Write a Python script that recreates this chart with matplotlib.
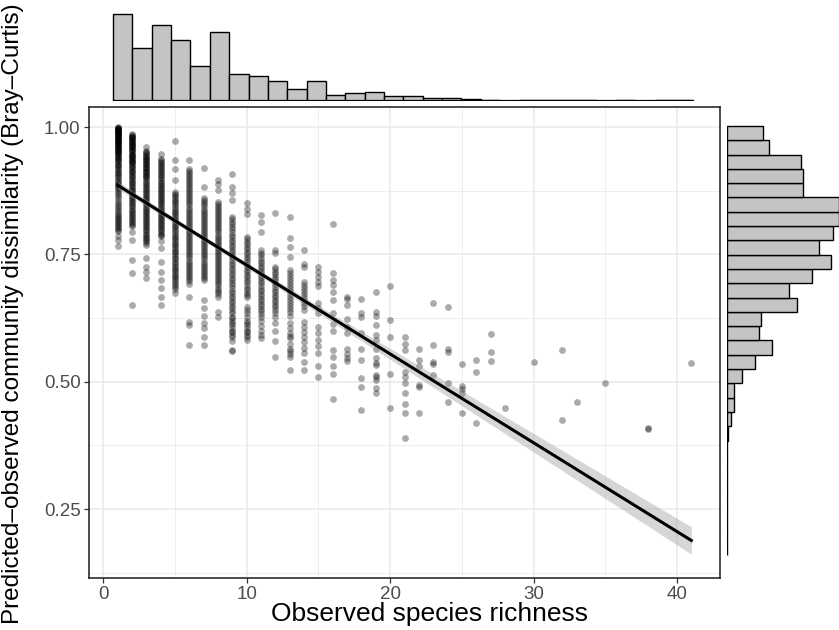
import numpy as np
import matplotlib
matplotlib.use("Agg")
import matplotlib.pyplot as plt

plt.rcParams['font.family'] = ['Liberation Sans', 'DejaVu Sans']

# observed richness (x) and the dissimilarity values seen in each column
richness = [1, 2, 3, 4, 5, 6, 7, 8, 9, 10, 11, 12, 13, 14, 15, 16, 17, 18, 19, 20,
            21, 22, 23, 24, 25, 26, 27, 28, 30, 32, 33, 35, 38, 41]
dissimilarity = [
    [1.000, 0.999, 0.999, 0.998, 0.997, 0.996, 0.995, 0.994, 0.993, 0.992, 0.991, 0.990, 0.989, 0.988,
     0.987, 0.986, 0.984, 0.983, 0.982, 0.981, 0.980, 0.978, 0.977, 0.976, 0.975, 0.973, 0.972, 0.971,
     0.970, 0.969, 0.967, 0.966, 0.965, 0.963, 0.962, 0.960, 0.958, 0.957, 0.956, 0.955, 0.953, 0.951,
     0.950, 0.949, 0.947, 0.945, 0.944, 0.942, 0.940, 0.938, 0.936, 0.933, 0.931, 0.928, 0.926, 0.923,
     0.921, 0.918, 0.915, 0.912, 0.910, 0.907, 0.904, 0.901, 0.898, 0.895, 0.892, 0.889, 0.886, 0.883,
     0.880, 0.876, 0.872, 0.868, 0.864, 0.860, 0.855, 0.851, 0.847, 0.843, 0.839, 0.835, 0.831, 0.828,
     0.825, 0.822, 0.819, 0.816, 0.813, 0.810, 0.807, 0.804, 0.801, 0.798, 0.795, 0.786, 0.779, 0.766],
    [0.987, 0.985, 0.983, 0.981, 0.980, 0.978, 0.976, 0.975, 0.974, 0.971, 0.969, 0.968, 0.967, 0.965,
     0.962, 0.961, 0.960, 0.958, 0.955, 0.954, 0.953, 0.951, 0.948, 0.946, 0.945, 0.944, 0.941, 0.939,
     0.937, 0.936, 0.934, 0.932, 0.931, 0.929, 0.926, 0.924, 0.921, 0.919, 0.916, 0.914, 0.911, 0.909,
     0.906, 0.903, 0.901, 0.898, 0.896, 0.893, 0.890, 0.888, 0.885, 0.882, 0.879, 0.877, 0.874, 0.871,
     0.868, 0.865, 0.862, 0.859, 0.856, 0.853, 0.850, 0.847, 0.844, 0.841, 0.838, 0.835, 0.832, 0.829,
     0.826, 0.823, 0.820, 0.817, 0.814, 0.811, 0.808, 0.805, 0.794, 0.778, 0.739, 0.713, 0.650],
    [0.961, 0.953, 0.950, 0.949, 0.947, 0.944, 0.942, 0.941, 0.938, 0.936, 0.935, 0.932, 0.929, 0.927,
     0.926, 0.923, 0.920, 0.919, 0.917, 0.914, 0.912, 0.911, 0.908, 0.905, 0.904, 0.902, 0.899, 0.896,
     0.893, 0.890, 0.887, 0.884, 0.881, 0.878, 0.875, 0.872, 0.869, 0.866, 0.863, 0.860, 0.857, 0.854,
     0.851, 0.848, 0.845, 0.842, 0.839, 0.836, 0.833, 0.830, 0.827, 0.824, 0.821, 0.818, 0.815, 0.812,
     0.809, 0.806, 0.803, 0.800, 0.797, 0.794, 0.791, 0.788, 0.785, 0.782, 0.779, 0.776, 0.773, 0.769,
     0.742, 0.725, 0.715, 0.704],
    [0.948, 0.938, 0.935, 0.932, 0.929, 0.926, 0.923, 0.920, 0.917, 0.914, 0.911, 0.908, 0.905, 0.902,
     0.899, 0.896, 0.893, 0.890, 0.887, 0.884, 0.881, 0.878, 0.875, 0.872, 0.869, 0.866, 0.863, 0.860,
     0.857, 0.854, 0.851, 0.848, 0.845, 0.842, 0.839, 0.836, 0.833, 0.830, 0.827, 0.824, 0.821, 0.818,
     0.815, 0.812, 0.809, 0.806, 0.803, 0.800, 0.797, 0.794, 0.791, 0.788, 0.786, 0.776, 0.762, 0.735,
     0.716, 0.700, 0.684, 0.667, 0.650],
    [0.972, 0.935, 0.918, 0.896, 0.873, 0.869, 0.866, 0.862, 0.859, 0.855, 0.852, 0.848, 0.845, 0.841,
     0.838, 0.834, 0.831, 0.827, 0.824, 0.820, 0.817, 0.813, 0.810, 0.806, 0.803, 0.799, 0.796, 0.792,
     0.789, 0.785, 0.782, 0.778, 0.775, 0.771, 0.768, 0.764, 0.761, 0.757, 0.754, 0.750, 0.747, 0.743,
     0.740, 0.736, 0.733, 0.729, 0.726, 0.722, 0.719, 0.715, 0.712, 0.708, 0.705, 0.701, 0.698, 0.694,
     0.690, 0.686, 0.683, 0.674],
    [0.936, 0.918, 0.914, 0.910, 0.906, 0.902, 0.898, 0.894, 0.890, 0.886, 0.882, 0.878, 0.874, 0.870,
     0.866, 0.862, 0.858, 0.854, 0.850, 0.846, 0.842, 0.838, 0.834, 0.830, 0.826, 0.822, 0.818, 0.814,
     0.810, 0.806, 0.802, 0.798, 0.794, 0.790, 0.786, 0.782, 0.778, 0.774, 0.770, 0.766, 0.762, 0.758,
     0.754, 0.750, 0.746, 0.742, 0.738, 0.734, 0.730, 0.726, 0.722, 0.718, 0.714, 0.710, 0.706, 0.702,
     0.698, 0.692, 0.667, 0.618, 0.612, 0.573],
    [0.920, 0.883, 0.860, 0.856, 0.852, 0.848, 0.844, 0.840, 0.836, 0.832, 0.828, 0.824, 0.820, 0.816,
     0.812, 0.808, 0.804, 0.800, 0.796, 0.792, 0.788, 0.784, 0.780, 0.776, 0.772, 0.768, 0.764, 0.760,
     0.756, 0.752, 0.748, 0.744, 0.740, 0.736, 0.732, 0.728, 0.724, 0.720, 0.716, 0.712, 0.708, 0.704,
     0.700, 0.660, 0.645, 0.630, 0.615, 0.605, 0.588, 0.572],
    [0.896, 0.889, 0.876, 0.853, 0.849, 0.845, 0.841, 0.837, 0.833, 0.829, 0.825, 0.821, 0.817, 0.813,
     0.809, 0.805, 0.801, 0.797, 0.793, 0.789, 0.785, 0.781, 0.777, 0.773, 0.769, 0.765, 0.761, 0.757,
     0.753, 0.749, 0.745, 0.741, 0.737, 0.733, 0.729, 0.725, 0.721, 0.717, 0.713, 0.709, 0.705, 0.701,
     0.697, 0.693, 0.689, 0.685, 0.681, 0.677, 0.672, 0.667, 0.637, 0.628],
    [0.907, 0.883, 0.870, 0.857, 0.824, 0.819, 0.814, 0.809, 0.804, 0.799, 0.794, 0.789, 0.784, 0.779,
     0.774, 0.769, 0.764, 0.759, 0.754, 0.749, 0.744, 0.739, 0.734, 0.729, 0.724, 0.719, 0.714, 0.709,
     0.704, 0.699, 0.694, 0.689, 0.684, 0.679, 0.674, 0.669, 0.664, 0.659, 0.654, 0.649, 0.644, 0.639,
     0.634, 0.628, 0.625, 0.620, 0.615, 0.612, 0.605, 0.600, 0.597, 0.592, 0.588, 0.580, 0.562, 0.560],
    [0.850, 0.840, 0.830, 0.785, 0.780, 0.775, 0.770, 0.765, 0.760, 0.755, 0.750, 0.745, 0.740, 0.735,
     0.730, 0.725, 0.720, 0.715, 0.710, 0.705, 0.700, 0.695, 0.690, 0.685, 0.680, 0.675, 0.670, 0.667,
     0.647, 0.640, 0.635, 0.628, 0.620, 0.615, 0.612, 0.605, 0.600, 0.598, 0.592, 0.588, 0.582],
    [0.827, 0.814, 0.794, 0.758, 0.753, 0.748, 0.743, 0.738, 0.733, 0.728, 0.723, 0.718, 0.713, 0.708,
     0.703, 0.698, 0.693, 0.688, 0.683, 0.678, 0.673, 0.668, 0.663, 0.658, 0.653, 0.648, 0.643, 0.638,
     0.633, 0.627, 0.620, 0.610, 0.600, 0.592, 0.585],
    [0.832, 0.758, 0.752, 0.726, 0.721, 0.716, 0.711, 0.706, 0.701, 0.696, 0.691, 0.686, 0.681, 0.676,
     0.671, 0.666, 0.661, 0.656, 0.651, 0.646, 0.640, 0.634, 0.628, 0.615, 0.600, 0.580, 0.549],
    [0.823, 0.783, 0.765, 0.745, 0.720, 0.714, 0.708, 0.702, 0.696, 0.690, 0.684, 0.678, 0.672, 0.666,
     0.660, 0.654, 0.648, 0.642, 0.636, 0.630, 0.615, 0.605, 0.595, 0.590, 0.585, 0.575, 0.565, 0.560,
     0.555, 0.549, 0.523],
    [0.758, 0.732, 0.725, 0.696, 0.690, 0.684, 0.678, 0.672, 0.666, 0.660, 0.654, 0.648, 0.640, 0.618,
     0.608, 0.598, 0.588, 0.578, 0.566, 0.556, 0.539, 0.523],
    [0.725, 0.715, 0.705, 0.695, 0.687, 0.654, 0.645, 0.634, 0.608, 0.595, 0.582, 0.570, 0.556, 0.530,
     0.510],
    [0.810, 0.713, 0.700, 0.690, 0.677, 0.660, 0.634, 0.614, 0.600, 0.562, 0.548, 0.530, 0.516, 0.467],
    [0.667, 0.662, 0.650, 0.624, 0.608, 0.595, 0.565, 0.555, 0.546, 0.540],
    [0.662, 0.634, 0.628, 0.595, 0.565, 0.543, 0.507, 0.490, 0.444],
    [0.677, 0.637, 0.629, 0.611, 0.592, 0.582, 0.565, 0.546, 0.536, 0.532, 0.514, 0.510, 0.503, 0.487,
     0.478],
    [0.687, 0.621, 0.588, 0.515, 0.448],
    [0.588, 0.575, 0.562, 0.520, 0.510, 0.498, 0.478, 0.457, 0.438, 0.389],
    [0.565, 0.542, 0.531, 0.493, 0.490, 0.438],
    [0.654, 0.572, 0.539, 0.535, 0.513],
    [0.647, 0.565, 0.559, 0.498, 0.461],
    [0.535, 0.492, 0.485, 0.477, 0.439],
    [0.542, 0.520, 0.420],
    [0.593, 0.559, 0.540],
    [0.449],
    [0.538],
    [0.562, 0.425],
    [0.460],
    [0.497],
    [0.410, 0.408],
    [0.536],
]

# marginal histogram counts
top_counts = [171, 103, 149, 120, 68, 136, 53, 49, 39, 23, 40, 11, 15, 18, 10,
              9, 5, 6, 4, 1, 0, 1, 1, 1, 1, 0, 1, 0, 1, 1]
top_start, top_binwidth = 0.68, 1.349
right_counts = [0, 0, 0, 0, 0, 0, 0, 0, 1, 3, 5, 5, 11, 20, 32,
                23, 24, 50, 44, 61, 74, 66, 76, 80, 80, 54, 54, 53, 30, 26]
right_start, right_binwidth = 0.160, 0.02807

x = np.concatenate([np.full(len(v), r, dtype=float) for r, v in zip(richness, dissimilarity)])
y = np.concatenate([np.array(v) for v in dissimilarity])

# linear model with 95% confidence band
coef = np.polyfit(x, y, 1)
xs = np.linspace(x.min(), x.max(), 100)
fit = np.polyval(coef, xs)
n = len(x)
s = np.sqrt(np.sum((y - np.polyval(coef, x)) ** 2) / (n - 2))
se = s * np.sqrt(1 / n + (xs - x.mean()) ** 2 / np.sum((x - x.mean()) ** 2))

W, H = 839, 630
fig = plt.figure(figsize=(W / 100, H / 100), dpi=100)


def px_axes(left, top, right, bottom):
    return fig.add_axes([left / W, 1 - bottom / H, (right - left) / W, (bottom - top) / H])


ax = px_axes(89, 107, 720, 578)
ax_top = px_axes(89, 12, 720, 101)
ax_right = px_axes(727, 107, 839, 578)

xlim = (-1, 43)
ylim = (0.1148, 1.0393)

grid_col = '#ebebeb'
for v in [-5, 5, 15, 25, 35]:
    ax.axvline(v, color=grid_col, lw=0.6, zorder=0)
for v in [0.125, 0.375, 0.625, 0.875]:
    ax.axhline(v, color=grid_col, lw=0.6, zorder=0)
for v in [0, 10, 20, 30, 40]:
    ax.axvline(v, color=grid_col, lw=1.2, zorder=0)
for v in [0.25, 0.5, 0.75, 1.0]:
    ax.axhline(v, color=grid_col, lw=1.2, zorder=0)

ax.scatter(x, y, s=24, color='black', alpha=0.33, linewidths=0, zorder=2)
ax.fill_between(xs, fit - 1.96 * se, fit + 1.96 * se, color='#999999', alpha=0.4, lw=0, zorder=3)
ax.plot(xs, fit, color='black', lw=2.2, zorder=4)

ax.set_xlim(*xlim)
ax.set_ylim(*ylim)
ax.set_xticks([0, 10, 20, 30, 40])
ax.set_yticks([0.25, 0.50, 0.75, 1.00])
ax.set_yticklabels(['0.25', '0.50', '0.75', '1.00'])
ax.tick_params(colors='#333333', labelcolor='#4d4d4d', labelsize=13.5, length=3.5, width=0.9, pad=2.5)
for sp in ax.spines.values():
    sp.set_color('#1a1a1a')
    sp.set_linewidth(1.1)

bar_fill = '#c4c4c4'
top_edges = top_start + top_binwidth * np.arange(len(top_counts))
ax_top.bar(top_edges, top_counts, width=top_binwidth, align='edge', color=bar_fill,
           edgecolor='black', linewidth=1.0)
ax_top.hlines(0, top_edges[0], top_edges[-1] + top_binwidth, color='black', lw=1.6)
ax_top.set_xlim(*xlim)
ax_top.set_ylim(0, max(top_counts) * 1.02)
ax_top.axis('off')

right_edges = right_start + right_binwidth * np.arange(len(right_counts))
ax_right.barh(right_edges, right_counts, height=right_binwidth, align='edge', color=bar_fill,
              edgecolor='black', linewidth=1.0)
ax_right.vlines(0, right_edges[0], right_edges[-1] + right_binwidth, color='black', lw=1.2)
ax_right.set_ylim(*ylim)
ax_right.set_xlim(0, max(right_counts))
ax_right.axis('off')

fig.text(429 / W, 1 - 614 / H, 'Observed species richness', ha='center', va='center',
         fontsize=19, color='black')
fig.text(13 / W, 1 - 314 / H, 'Predicted\u2013observed community dissimilarity (Bray\u2013Curtis)',
         ha='center', va='center', rotation=90, fontsize=17.5, color='black')

fig.savefig('out.png', dpi=100)
